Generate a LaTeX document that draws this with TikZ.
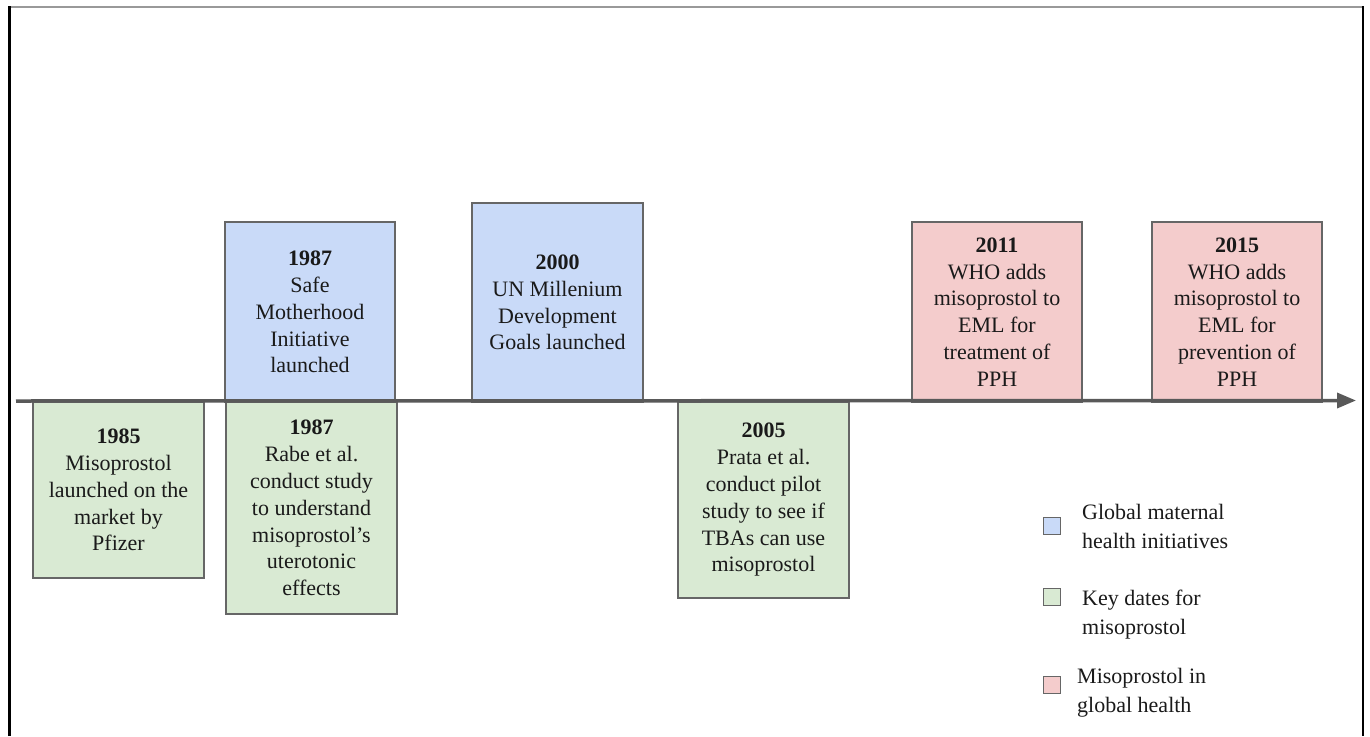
\documentclass[tikz,border=0pt]{standalone}
\usepackage{fontspec}
\setmainfont{Liberation Serif}
\usetikzlibrary{arrows.meta}
\definecolor{bluefill}{HTML}{C9DAF8}
\definecolor{greenfill}{HTML}{D9EAD3}
\definecolor{redfill}{HTML}{F4CCCC}
\definecolor{boxline}{HTML}{666666}
\definecolor{axiscol}{HTML}{595959}
\definecolor{txt}{HTML}{1A1A1A}
\begin{document}
\begin{tikzpicture}[x=1pt,y=-1pt,
  evbox/.style={draw=boxline, line width=1.3pt, inner sep=0pt, align=center,
    text=txt, font=\fontsize{22}{26.8}\selectfont},
  blueev/.style={evbox, fill=bluefill},
  greenev/.style={evbox, fill=greenfill},
  redev/.style={evbox, fill=redfill},
  legsq/.style={draw=boxline, line width=1pt, minimum size=17pt, inner sep=0pt},
  legtext/.style={anchor=west, inner sep=0pt, align=left, text=txt, font=\fontsize{22}{29}\selectfont},
  axisline/.style={draw=axiscol, line width=3.5pt, -{Triangle[length=19pt,width=15pt]}}
]
\useasboundingbox (0,0) rectangle (1370,736);
\fill[white] (0,0) rectangle (1370,736);
% frame
\draw[draw=gray!80, line width=1.6pt] (8,7) -- (1363,7);
\draw[black, line width=3pt] (9,736) -- (9,6.2);
\draw[black, line width=2.5pt] (1363,6.2) -- (1363,736);

% event boxes
\node[greenev, minimum width=171pt, minimum height=176pt] (b1985) at (118.5,490)
  {\textbf{1985}\\Misoprostol\\launched on the\\market by\\Pfizer};
\node[blueev, minimum width=170pt, minimum height=180pt] (b1987a) at (310,312)
  {\textbf{1987}\\Safe\\Motherhood\\Initiative\\launched};
\node[greenev, minimum width=171pt, minimum height=212pt] (b1987b) at (311.5,508)
  {\textbf{1987}\\Rabe et al.\\conduct study\\to understand\\misoprostol’s\\uterotonic\\effects};
\node[blueev, minimum width=171pt, minimum height=199pt] (b2000) at (557.5,302.5)
  {\textbf{2000}\\UN Millenium\\Development\\Goals launched};
\node[greenev, minimum width=171pt, minimum height=196pt] (b2005) at (763.5,500)
  {\textbf{2005}\\Prata et al.\\conduct pilot\\study to see if\\TBAs can use\\misoprostol};
\node[redev, minimum width=170pt, minimum height=180pt] (b2011) at (997,312)
  {\textbf{2011}\\WHO adds\\misoprostol to\\EML for\\treatment of\\PPH};
\node[redev, minimum width=170pt, minimum height=180pt] (b2015) at (1237,312)
  {\textbf{2015}\\WHO adds\\misoprostol to\\EML for\\prevention of\\PPH};

% timeline
\coordinate (tlstart) at (16,401);
\coordinate (tlend) at (1356,400.5);
\draw[axisline] (tlstart) -- (tlend);

% legend
\node[legsq, fill=bluefill] (lgblue) at (1051.5,525.5) {};
\node[legtext] (lgbluet) at (1082,526) {Global maternal\\health initiatives};
\node[legsq, fill=greenfill] (lggreen) at (1051.5,597) {};
\node[legtext] (lggreent) at (1082,615) {Key dates for\\misoprostol};
\node[legsq, fill=redfill] (lgred) at (1051.5,684.5) {};
\node[legtext] (lgredt) at (1077,692.5) {Misoprostol in\\global health};
\end{tikzpicture}
\end{document}
